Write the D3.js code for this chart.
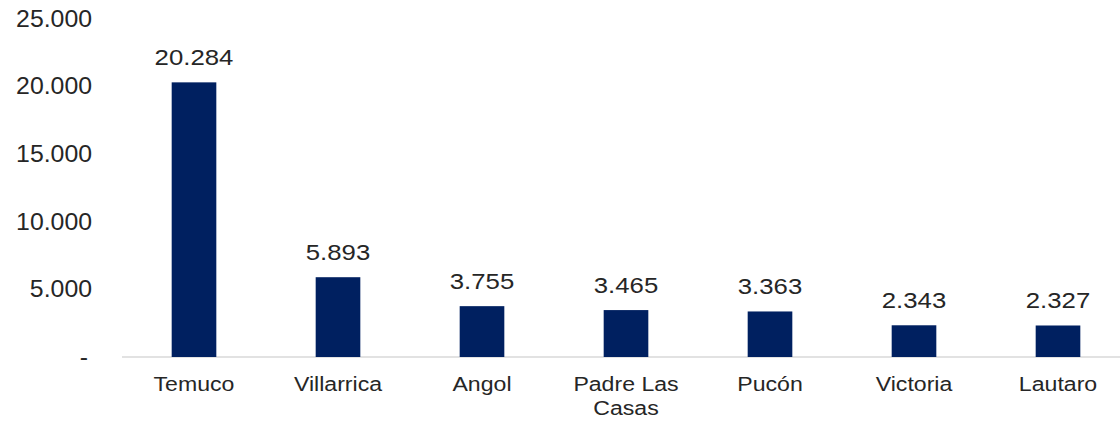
<!DOCTYPE html>
<html>
<head>
<meta charset="utf-8">
<script src="https://cdn.jsdelivr.net/npm/d3@7"></script>
<style>
  html, body { margin: 0; padding: 0; background: #fff; }
  svg { display: block; }
  text { font-family: "Liberation Sans", Arial, sans-serif; fill: #262626; }
</style>
</head>
<body>
<svg id="chart" width="1120" height="424"></svg>
<script>
const categories = ["Temuco", "Villarrica", "Angol", "Padre Las Casas", "Pucón", "Victoria", "Lautaro"];
const values = [20284, 5893, 3755, 3465, 3363, 2343, 2327];
const tickValues = [0, 5000, 10000, 15000, 20000, 25000];
const tickLabels = ["-", "5.000", "10.000", "15.000", "20.000", "25.000"];
const valueLabels = ["20.284", "5.893", "3.755", "3.465", "3.363", "2.343", "2.327"];
const categoryLines = [["Temuco"], ["Villarrica"], ["Angol"], ["Padre Las", "Casas"], ["Pucón"], ["Victoria"], ["Lautaro"]];

const svg = d3.select("#chart");
const x = d3.scaleBand().domain(categories).range([122, 1130]).paddingInner(0.69).paddingOuter(0.345);
const y = d3.scaleLinear().domain([0, 25000]).range([357, 18.5]);

// y-axis labels (generated from axis, then re-positioned with horizontal stretch)
const yAxis = d3.axisLeft(y).tickValues(tickValues).tickSize(0).tickPadding(0)
  .tickFormat((d, i) => tickLabels[i]);
const gy = svg.append("g").call(yAxis);
gy.select(".domain").remove();
gy.attr("font-size", null).attr("font-family", null);
gy.selectAll(".tick").attr("transform", null);
gy.selectAll(".tick text")
  .attr("x", null).attr("dy", null)
  .attr("text-anchor", "end")
  .attr("fill", "#262626")
  .style("font-size", "23px")
  .attr("dominant-baseline", "central")
  .attr("transform", d => `translate(${d === 0 ? 88 : 92},${y(d)}) scale(1.08,1)`);

// baseline
svg.append("line").attr("x1", 122).attr("x2", 1120).attr("y1", y(0)).attr("y2", y(0))
  .attr("stroke", "#d9d9d9").attr("stroke-width", 1.5);

// bars
svg.selectAll("rect.bar").data(values).enter().append("rect")
  .attr("class", "bar")
  .attr("x", (d, i) => x(categories[i]))
  .attr("width", x.bandwidth())
  .attr("y", d => y(d))
  .attr("height", d => y(0) - y(d))
  .attr("fill", "#002060");

// value labels
svg.selectAll("text.val").data(values).enter().append("text")
  .attr("class", "val")
  .attr("transform", (d, i) => `translate(${x(categories[i]) + x.bandwidth() / 2},${y(d) - 17}) scale(1.12,1)`)
  .attr("text-anchor", "middle")
  .style("font-size", "23px")
  .text((d, i) => valueLabels[i]);

// category labels
const cat = svg.selectAll("text.cat").data(categories).enter().append("text")
  .attr("class", "cat")
  .attr("transform", d => `translate(${x(d) + x.bandwidth() / 2},391) scale(1.1,1)`)
  .attr("text-anchor", "middle")
  .style("font-size", "21px");
cat.each(function(d, i) {
  const t = d3.select(this);
  categoryLines[i].forEach((line, j) => {
    t.append("tspan").attr("x", 0).attr("dy", j === 0 ? 0 : 24).text(line);
  });
});
</script>
</body>
</html>
